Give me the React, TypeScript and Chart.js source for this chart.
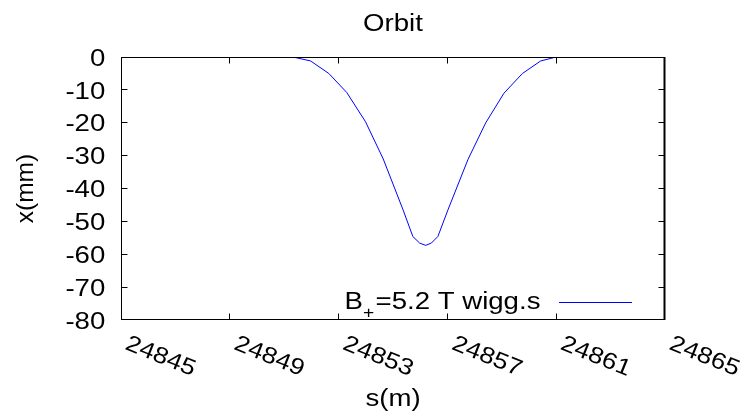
import { useEffect, useRef } from "react";
import { Chart, registerables } from "chart.js";

Chart.register(...registerables);

// Beam position along the lattice (s in metres) and horizontal orbit (x in mm)
const S_M = [
  24851.32, 24851.97, 24852.64, 24853.3, 24853.99, 24854.64, 24855.37,
  24855.73, 24855.98, 24856.2, 24856.41, 24856.65, 24857.02, 24857.76,
  24858.41, 24859.08, 24859.76, 24860.43, 24861.0,
];
const X_MM = [
  0, -1.2, -5.0, -10.8, -19.7, -31.0, -46.5, -54.6, -56.6, -57.3, -56.6,
  -54.6, -46.5, -31.1, -20.0, -11.0, -5.0, -1.2, 0,
];

// Axis ranges and tick values
const S_MIN = 24845;
const S_MAX = 24865;
const S_TICKS = [24845, 24849, 24853, 24857, 24861, 24865];
const X_MIN = -80;
const X_MAX = 0;
const X_TICKS = [0, -10, -20, -30, -40, -50, -60, -70, -80];

// Text
const TITLE = "Orbit";
const S_TITLE = "s(m)";
const X_TITLE = "x(mm)";
const KEY_MAIN = "B";
const KEY_SUB = "+";
const KEY_REST = "=5.2 T wigg.s";

const FONT = '"Liberation Sans", Arial, Helvetica, sans-serif';
const LINE_BLUE = "#0000ff";
const TEXT_SIZE = 23;
const TEXT_SX = 1.2;

function drawLabel(
  ctx: CanvasRenderingContext2D,
  text: string,
  x: number,
  y: number,
  size: number,
  align: CanvasTextAlign,
  sx = 1,
  rot = 0
): number {
  ctx.save();
  ctx.translate(x, y);
  if (rot) ctx.rotate(rot);
  ctx.scale(sx, 1);
  ctx.font = `${size}px ${FONT}`;
  ctx.textAlign = align;
  ctx.textBaseline = "alphabetic";
  ctx.fillStyle = "#000";
  ctx.fillText(text, 0, 0);
  const w = ctx.measureText(text).width * sx;
  ctx.restore();
  return w;
}

// Border, mirrored inward ticks, tick labels, titles and key in gnuplot style
const gnuplotDecor = {
  id: "gnuplotDecor",
  afterDraw(chart: Chart) {
    const { ctx, chartArea: a, scales } = chart;
    const xs = scales.x;
    const ys = scales.y;
    const L = Math.round(a.left) + 0.5;
    const R = Math.round(a.right) - 0.5;
    const T = Math.round(a.top) + 0.5;
    const B = Math.round(a.bottom) - 0.5;
    const clampX = (p: number) => Math.min(R, Math.max(L, Math.floor(p) + 0.5));
    const clampY = (p: number) => Math.min(B, Math.max(T, Math.floor(p) + 0.5));
    const tickLen = 6;

    ctx.save();
    ctx.strokeStyle = "#000";
    ctx.lineWidth = 1;
    ctx.strokeRect(L, T, R - L, B - T);
    ctx.beginPath();
    ctx.lineWidth = 2;
    ctx.moveTo(R, T - 0.5);
    ctx.lineTo(R, B + 0.5);
    ctx.stroke();

    ctx.lineWidth = 1;
    ctx.beginPath();
    for (const v of S_TICKS) {
      const px = clampX(xs.getPixelForValue(v));
      ctx.moveTo(px, B);
      ctx.lineTo(px, B - tickLen);
      ctx.moveTo(px, T);
      ctx.lineTo(px, T + tickLen);
    }
    for (const v of X_TICKS) {
      const py = clampY(ys.getPixelForValue(v));
      ctx.moveTo(L, py);
      ctx.lineTo(L + tickLen, py);
      ctx.moveTo(R, py);
      ctx.lineTo(R - tickLen, py);
    }
    ctx.stroke();
    ctx.restore();

    // y tick labels
    for (const v of X_TICKS) {
      const py = ys.getPixelForValue(v);
      drawLabel(ctx, String(v), a.left - 15.7, py + 8.7, TEXT_SIZE, "right", TEXT_SX);
    }

    // x tick labels, turned clockwise
    const rot = (22 * Math.PI) / 180;
    for (const v of S_TICKS) {
      const px = xs.getPixelForValue(v);
      drawLabel(ctx, String(v), px + 3, a.bottom + 28.7, TEXT_SIZE, "left", 1.15, rot);
    }

    const cx = (a.left + a.right) / 2;
    drawLabel(ctx, TITLE, cx, 30.5, TEXT_SIZE, "center", TEXT_SX);
    drawLabel(ctx, S_TITLE, cx, 406, TEXT_SIZE, "center", TEXT_SX);
    drawLabel(ctx, X_TITLE, 32.9, (a.top + a.bottom) / 2, 24.5, "center", 1, -Math.PI / 2);

    // key: label with subscript, then line sample
    let kx = 344.5;
    const ky = 308.5;
    kx += drawLabel(ctx, KEY_MAIN, kx, ky, TEXT_SIZE, "left", TEXT_SX);
    kx += drawLabel(ctx, KEY_SUB, kx, ky + 9.5, 16, "left", TEXT_SX);
    kx += 1.4;
    drawLabel(ctx, KEY_REST, kx, ky, TEXT_SIZE, "left", TEXT_SX);

    ctx.save();
    ctx.strokeStyle = LINE_BLUE;
    ctx.lineWidth = 1;
    ctx.beginPath();
    ctx.moveTo(559, 302.5);
    ctx.lineTo(632, 302.5);
    ctx.stroke();
    ctx.restore();
  },
};

export default function App() {
  const canvasRef = useRef<HTMLCanvasElement>(null);

  useEffect(() => {
    const canvas = canvasRef.current;
    if (!canvas) return;
    const chart = new Chart(canvas, {
      type: "line",
      data: {
        datasets: [
          {
            label: KEY_MAIN + KEY_SUB + KEY_REST,
            data: S_M.map((s, i) => ({ x: s, y: X_MM[i] })),
            borderColor: LINE_BLUE,
            borderWidth: 1,
            pointRadius: 0,
            tension: 0,
            fill: false,
          },
        ],
      },
      options: {
        responsive: false,
        animation: false,
        devicePixelRatio: 1,
        events: [],
        layout: { padding: { left: 121, top: 57, right: 77, bottom: 96 } },
        scales: {
          x: { type: "linear", min: S_MIN, max: S_MAX, display: false },
          y: { type: "linear", min: X_MIN, max: X_MAX, display: false },
        },
        plugins: {
          legend: { display: false },
          tooltip: { enabled: false },
          title: { display: false },
        },
      },
      plugins: [gnuplotDecor],
    });
    return () => chart.destroy();
  }, []);

  return (
    <div
      style={{
        position: "absolute",
        left: 0,
        top: 0,
        width: 742,
        height: 416,
        background: "#fff",
      }}
    >
      <canvas
        ref={canvasRef}
        width={742}
        height={416}
        style={{ display: "block", width: 742, height: 416 }}
      />
    </div>
  );
}
